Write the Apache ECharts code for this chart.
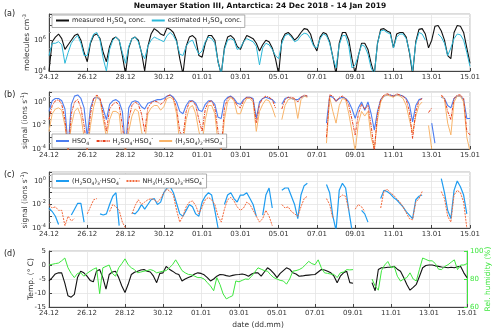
<!DOCTYPE html>
<html>
<head>
<meta charset="utf-8">
<script src="https://cdn.jsdelivr.net/npm/echarts@6/dist/echarts.min.js"></script>
<style>
html, body { margin: 0; padding: 0; background: #fff; }
#chart { width: 500px; height: 332px; }
</style>
</head>
<body>
<div id="chart"></div>
<script>
// samples every 4 h from 24.12 00:00, values in log10 for (a)-(c)
const STEP = 4 / 24;
const dateLabels = ['24.12', '26.12', '28.12', '30.12', '01.01', '03.01', '05.01', '07.01', '09.01', '11.01', '13.01', '15.01'];

const measuredConc = [
    4.0, 5.9, 6.2, 6.4, 6.1, 5.4,
    5.7, 6.0, 6.3, 6.4, 6.0, 5.2,
    4.6, 5.8, 6.3, 6.4, 6.1, 5.2,
    4.6, 5.6, 6.1, 6.2, 6.0, 5.0,
    3.8, 5.5, 6.1, 6.2, 6.0, 5.2,
    4.0, 5.6, 6.4, 6.75, 6.6, 6.4,
    6.3, 6.8, 6.7, 6.5, 6.0, 4.8,
    3.8, 5.6, 6.2, 6.3, 6.1, 5.0,
    4.9, 5.8, 6.3, 6.3, 6.0, 4.6,
    3.8, 5.5, 6.2, 6.3, 6.1, 5.6,
    5.4, 5.9, 6.3, 6.2, 6.1, 5.8,
    5.3, 5.7, 6.0, 5.9, 5.5, 4.8,
    3.8, 6.0, 6.4, 6.5, 6.3, 6.0,
    6.2, 6.5, 6.75, 6.7, 6.4, 5.7,
    5.3, 6.2, 6.5, 6.4, 5.9, 4.9,
    3.8, 5.8, 6.5, 6.5, 6.0, 4.8,
    3.8, 5.0, 5.8, 5.8, 5.4, 4.5,
    3.8, 5.8, 6.7, 6.75, 6.6, 6.5,
    5.5, 6.4, 6.5, 6.5, 6.2, 5.2,
    3.8, 5.9, 6.7, 6.75, 6.4, 5.5,
    6.0, 6.9, 6.95, 6.6, 6.0, 5.0,
    4.8, 6.5, 6.95, 6.9, 6.5, 5.5,
    4.5
];
const estimatedConc = [
    5.0, 5.8, 5.8, 5.9, 5.7, 4.5,
    5.2, 5.8, 6.1, 6.3, 5.8, 5.0,
    5.0, 5.9, 6.4, 6.5, 6.0, 4.8,
    4.0, 5.4, 6.0, 6.2, 6.0, 5.2,
    4.5, 5.6, 6.1, 6.2, 5.9, 5.2,
    4.8, 5.6, 6.0, 6.2, 6.1, 6.0,
    5.9, 6.3, 6.5, 6.3, 5.9, 5.1,
    5.0, 5.6, 5.9, 6.0, 5.5, 5.1,
    5.3, 5.9, 6.2, 6.1, 5.8, 4.6,
    3.8, 5.4, 6.0, 6.1, 6.0, 5.4,
    5.5, 5.9, 6.1, 6.0, 5.9, 5.6,
    4.4, 5.5, 5.8, 5.7, 5.4, 5.0,
    4.8, 5.8, 6.3, 6.4, 6.2, 5.9,
    6.0, 6.3, 6.45, 6.4, 6.1, 5.6,
    5.5, 6.1, 6.4, 6.3, 5.8, 4.9,
    4.2, 5.7, 6.3, 6.3, 5.6, 4.2,
    4.4, 5.0, 5.7, 5.6, 5.1, 4.2,
    3.8, 5.8, 6.6, 6.65, 6.5, 6.4,
    5.5, 6.2, 6.4, 6.4, 6.1, 5.3,
    4.0, 5.8, 6.5, 6.4, 6.0, null,
    null, null, 6.4, 6.2, 5.8, 5.0,
    5.5, 6.1, 6.4, 6.35, 6.0, 5.2,
    4.3
];

const hso4 = [
    -0.8, 0.1, 0.3, 0.3, 0.1, -0.6,
    -3.8, -0.2, 0.5, 0.6, 0.3, -0.5,
    -3.0, -0.5, 0.3, 0.4, 0.2, -0.6,
    -1.5, -0.2, 0.1, 0.2, 0.0, -0.8,
    -3.9, -0.5, 0.0, 0.1, 0.0, -0.4,
    -0.6, -0.1, 0.0, 0.1, 0.2, 0.2,
    0.3, 0.5, 0.6, 0.4, 0.0, -0.8,
    -1.0, -0.3, 0.1, 0.1, -0.1, -0.7,
    -0.8, -0.2, 0.1, 0.1, -0.2, -1.3,
    -1.4, 0.1, 0.4, 0.5, 0.3, -0.1,
    -0.2, 0.2, 0.4, 0.4, 0.3, -1.4,
    0.0, 0.3, 0.4, 0.3, 0.2, -0.1,
    null, -0.2, 0.3, 0.4, 0.3, 0.2,
    0.2, 0.4, 0.5, 0.5, null, null,
    null, null, null, -1.8, 0.5, 0.4,
    0.1, 0.3, 0.4, 0.3, 0.0, -0.6,
    -1.4, -0.5, 0.0, -0.7, 0.0, -1.0,
    -2.4, -0.8, 0.2, 0.5, 0.6, 0.6,
    0.5, 0.6, 0.6, 0.5, 0.3, -0.2,
    -1.7, -0.3, 0.2, 0.3, null, null,
    -1.8, -3.5, null, 0.4, 0.3, -0.3,
    -0.5, 0.3, 0.5, 0.5, 0.2, -1.4,
    -1.4
];
const h2so4Hso4 = [
    -1.5, -0.3, 0.1, 0.2, -0.2, -1.5,
    -4.2, -1.0, 0.0, 0.2, -0.5, -2.0,
    -4.2, -1.0, 0.3, 0.6, 0.3, -1.0,
    -2.5, -0.6, -0.2, 0.0, -0.3, -2.0,
    -4.2, -1.5, -0.3, 0.0, -0.2, -1.0,
    -2.5, -0.5, -0.1, 0.1, 0.0, -0.2,
    0.0, 0.5, 0.6, 0.3, -0.5, -2.5,
    -3.0, -0.8, 0.0, 0.1, -0.3, -1.5,
    -2.5, -0.6, 0.0, 0.1, -0.5, -2.5,
    -4.2, -0.5, 0.3, 0.5, 0.2, -0.3,
    -0.5, 0.1, 0.4, 0.4, 0.2, -1.8,
    -0.2, 0.3, 0.5, 0.4, 0.2, -0.5,
    null, -0.6, 0.2, 0.4, 0.4, 0.3,
    0.0, 0.4, 0.6, 0.5, null, null,
    null, null, null, -3.0, 0.6, 0.5,
    0.0, 0.4, 0.5, 0.3, -0.3, -1.5,
    -2.8, -1.0, -0.2, -0.6, -0.3, -2.0,
    -4.2, -1.0, 0.2, 0.6, 0.7, 0.6,
    0.5, 0.7, 0.6, 0.5, 0.2, -0.8,
    -3.1, -0.8, 0.1, 0.3, null, -0.9,
    -0.5, null, null, 0.6, 0.3, -0.8,
    -1.5, 0.3, 0.6, 0.6, 0.3, -2.5,
    -2.8
];
const h2so4x2Hso4 = [
    -2.5, -1.0, -0.6, -0.5, -0.7, -2.0,
    -4.2, -2.0, -0.8, -0.5, -1.2, -3.0,
    -4.2, -2.0, -0.4, 0.5, 0.2, -1.5,
    -3.0, -1.5, -0.8, -0.8, -1.0, -3.5,
    -4.2, -2.5, -1.2, -0.6, -0.8, -2.5,
    -3.5, -1.0, -0.5, -0.3, -0.3, -0.7,
    -0.4, 0.3, 0.4, 0.2, -1.0, -3.5,
    -3.5, -1.5, -0.5, -0.3, -1.0, -2.5,
    -3.5, -1.5, -0.3, -0.3, -1.0, -3.5,
    -4.2, -1.5, 0.0, 0.4, 0.1, -1.0,
    -1.0, -0.2, 0.3, 0.3, 0.0, -2.5,
    -0.8, -0.2, 0.2, 0.1, -0.5, -1.3,
    null, -1.5, -0.3, 0.2, 0.3, 0.2,
    -1.4, 0.2, 0.5, 0.4, null, null,
    null, null, null, -3.5, 0.4, -0.8,
    -1.8, -0.3, 0.3, 0.2, -1.0, -2.5,
    -4.2, -1.8, -0.8, -1.2, -0.8, -3.0,
    -4.0, -1.5, 0.0, 0.5, 0.6, 0.5,
    0.4, 0.6, 0.5, 0.3, -0.3, -1.5,
    -2.6, -1.2, -0.3, 0.0, null, -2.0,
    -4.0, null, null, 0.5, 0.2, -1.8,
    -2.8, 0.0, 0.5, 0.5, 0.0, -3.0,
    -4.2
];

const h2so4x3Hso4 = [
    -2.3, -2.6, -3.0, -3.7, null, null,
    null, -2.9, -2.4, -1.9, -1.9, -3.5,
    null, null, null, null, -2.8, -2.9,
    -2.8, -2.0, -1.3, -1.0, -3.8, null,
    null, null, -2.7, -2.8, -2.5, -2.0,
    -2.4, -2.0, -1.6, -1.5, -2.0, -1.8,
    -1.0, -0.6, -0.5, -1.0, -1.9, -2.8,
    -3.0, -2.5, -2.0, -2.2, -2.8, -3.0,
    -1.8, -1.3, -1.0, -1.2, -2.5, -4.0,
    null, -2.0, -1.2, -1.0, -1.5, -1.8,
    -1.2, -1.2, -1.0, -1.5, -2.0, -3.0,
    null, -2.9, -1.2, -0.6, -2.3, null,
    null, -0.8, -0.6, -0.6, -1.3, -2.0,
    -3.2, -1.2, -0.4, -0.2, null, null,
    null, null, null, -0.3, -1.0, -3.0,
    -4.2, -0.8, -0.2, -0.6, -2.5, -4.2,
    null, null, -2.5, -2.8, -3.5, null,
    null, null, -1.5, -0.8, -0.9, -1.1,
    -1.4, -1.6, -1.9, -2.2, -2.6, -2.9,
    -3.2, -1.6, -1.3, -1.2, null, null,
    null, null, null, 0.2, -1.0, -2.5,
    -3.2, -0.8, 0.0, -0.5, -1.2, -2.8,
    null
];
const nh3H2so4x3Hso4 = [
    -2.0, -2.3, -2.2, -2.5, -2.5, -3.8,
    -3.0, -3.4, -3.2, null, null, null,
    -2.8, -2.2, -1.6, -1.5, null, null,
    null, -2.6, -2.0, -2.2, -2.5, -3.5,
    -4.0, null, -2.8, -2.1, -1.6, -2.0,
    -1.8, -1.6, -1.5, -1.6, -1.8, -1.5,
    -1.0, -0.7, -0.9, -1.2, -2.5, -3.5,
    -3.0, -2.2, -1.8, -1.7, -2.1, -2.8,
    -2.2, -1.6, -1.4, -1.6, -2.0, -3.0,
    -3.5, -2.4, -1.6, -1.4, -1.7, -2.2,
    -2.5, -2.3, -1.8, -2.0, -2.5, -3.0,
    -3.5, -3.2, -2.5, -3.0, -3.8, null,
    null, -2.0, -2.3, -2.2, -2.6, -2.8,
    -3.0, -2.2, -1.5, -1.3, null, null,
    null, null, null, -1.5, -2.0, -3.2,
    null, -1.4, -1.2, -1.3, -2.5, null,
    -2.4, -2.0, -2.2, -2.6, null, null,
    null, null, -2.3, -0.9, -0.7, -1.0,
    -1.2, -1.5, -1.8, -2.2, -2.7, -3.2,
    -3.3, -1.8, -1.5, -0.9, null, null,
    null, null, null, -0.9, -1.5, -3.0,
    -3.5, -1.2, -0.8, -1.0, -1.8, -4.0,
    null
];

const temperature = [
    -5.7, -4.5, -3.2, -2.8, -2.8, -6.5,
    -11.0, -11.5, -10.5, -4.5, -2.2, -2.8,
    -4.0, -5.5, -6.0, -2.2, -1.6, -4.5,
    -8.6, -3.4, -2.5, -2.2, -4.5, -7.5,
    -9.8, -6.9, -3.4, -2.6, -2.2, -1.8,
    -1.6, -2.2, -2.5, -4.0, -6.3, -3.0,
    -2.8, -0.5, -1.5, -2.2, -3.0, -3.4,
    -5.7, -5.0, -4.5, -4.0, -3.2, -2.8,
    -3.0, -3.5, -4.5, -5.7, -5.0, -4.0,
    -3.4, -3.5, -3.8, -4.0, -3.7, -3.5,
    -3.4, -3.2, -3.5, -4.0, -3.2, -2.8,
    -2.8, -4.0, -2.5, -1.0, -1.8, -3.0,
    -4.5, -3.0, -2.0, -1.0, -1.5, -2.8,
    -3.2, -4.0, -3.9, -3.7, -3.6, -3.5,
    -3.4, -2.5, -1.6, -1.8, -2.2, -2.8,
    -4.0, -6.3, -4.0, -2.8, -2.2, -6.3,
    -6.5, null, null, null, null, null,
    -6.3, -9.2, -1.6, -1.0, -1.0, -0.8,
    -0.8, -0.5, -1.5, -2.2, -4.5, -7.0,
    -9.0, -8.0, -6.9, -4.0, -1.0, -0.2,
    0.0, 0.0, -0.3, -0.5, -0.7, -0.8,
    -1.0, -0.8, -1.0, -0.6, -0.5, -2.8,
    -4.5
];
const relHumidity = [
    90, 90.5, 91, 91.4, 93, 95,
    88, 84, 81, 84, 84.4, 82,
    84, 85.6, 87, 88, 69.5, 88,
    89, 90, 84, 82, 88, 91,
    94.4, 90.2, 88, 86.7, 84.4, 85,
    85.6, 86, 86.7, 86, 84.4, 85,
    85.6, 86, 88, 90.2, 93.7, 90,
    86, 84.4, 83.3, 83, 82, 81,
    81, 80, 77.4, 75, 71.6, 81,
    76, 69.3, 65.8, 67, 68.1, 78.6,
    78, 79, 80, 79.8, 82, 85,
    88, 87, 86, 85.6, 83, 81,
    80, 79, 78.6, 76.3, 80, 85.6,
    86, 86.7, 88, 90.2, 92.6, 91,
    90.2, 93.7, 88, 84.4, 84, 83.5,
    83.3, 81, 84.4, 85, 86.7, 86.5,
    86.7, null, null, null, null, null,
    80, 75, 72, 86, 90, 92.5,
    88, 89, 82, 78.5, 80, 81,
    84.4, 80, 78.6, 87, 95, 94,
    93, 93, 91, 87, 86.7, 89,
    90.2, 92, 93.7, 86.7, 90, 90,
    91
];

const FONT = 'DejaVu Sans';
const GREEN = '#3ee63e';
const rich = {
    n: { fontSize: 6.5, lineHeight: 10, fontFamily: FONT, color: '#222' },
    sub: { fontSize: 4.5, lineHeight: 4, verticalAlign: 'bottom', fontFamily: FONT, color: '#222' },
    sup: { fontSize: 4.5, lineHeight: 4, verticalAlign: 'top', fontFamily: FONT, color: '#222' }
};
const legendText = {
    measured: '{n|measured H}{sub|2}{n|SO}{sub|4}{n| conc.}',
    estimated: '{n|estimated H}{sub|2}{n|SO}{sub|4}{n| conc.}',
    hso4: '{n|HSO}{sub|4}{sup|-}',
    dimer: '{n|H}{sub|2}{n|SO}{sub|4}{n|·HSO}{sub|4}{sup|-}',
    trimer: '{n|(H}{sub|2}{n|SO}{sub|4}{n|)}{sub|2}{n|·HSO}{sub|4}{sup|-}',
    tetramer: '{n|(H}{sub|2}{n|SO}{sub|4}{n|)}{sub|3}{n|·HSO}{sub|4}{sup|-}',
    nh3: '{n|NH}{sub|3}{n|(H}{sub|2}{n|SO}{sub|4}{n|)}{sub|3}{n|·HSO}{sub|4}{sup|-}'
};

function pts(arr) {
    return arr.map((v, i) => [i * STEP, v]);
}

const gridTops = [14, 92, 172, 251];
const gridHeights = [57, 57, 56, 56];

const chart = echarts.init(document.getElementById('chart'));

const xAxes = gridTops.map((t, i) => ({
    type: 'value',
    gridIndex: i,
    min: 0,
    max: 22,
    interval: 2,
    axisLine: { onZero: false, lineStyle: { color: '#444' } },
    axisTick: { inside: true, length: 3, lineStyle: { color: '#444' } },
    axisLabel: {
        fontFamily: FONT, fontSize: 7, color: '#333', margin: 3,
        formatter: v => dateLabels[Math.round(v / 2)] || ''
    },
    splitLine: { show: true, lineStyle: { color: '#e4e4e4', width: 0.8 } },
    name: i === 3 ? 'date (dd.mm)' : '',
    nameLocation: 'middle',
    nameGap: 14,
    nameMoveOverlap: false,
    nameTextStyle: { fontFamily: FONT, fontSize: 7.5, color: '#333' }
}));

function logAxis(gi, min, max, name, gap) {
    return {
        type: 'value',
        gridIndex: gi,
        min: min,
        max: max,
        interval: 1,
        axisLine: { show: true, onZero: false, lineStyle: { color: '#444' } },
        axisTick: { inside: true, length: 3, lineStyle: { color: '#444' } },
        axisLabel: {
            margin: 3,
            rich: {
                b: { fontSize: 7, fontFamily: FONT, color: '#333', lineHeight: 10 },
                s: { fontSize: 5, fontFamily: FONT, color: '#333', lineHeight: 5, verticalAlign: 'top' }
            },
            formatter: v => (Number.isInteger(v) && v % 2 === 0) ? '{b|10}{s|' + v + '}' : ''
        },
        splitLine: { show: true, lineStyle: { color: '#e4e4e4', width: 0.8 } },
        minorTick: { show: true, splitNumber: 2, length: 2, lineStyle: { color: '#888' } },
        minorSplitLine: { show: true, lineStyle: { color: '#f0f0f0', width: 0.8 } },
        name: name,
        nameLocation: 'middle',
        nameRotate: 90,
        nameGap: gap,
        nameMoveOverlap: false,
        nameTextStyle: {
            rich: {
                n: { fontSize: 7.5, fontFamily: FONT, color: '#333', lineHeight: 11 },
                sup: { fontSize: 5, fontFamily: FONT, color: '#333', lineHeight: 5, verticalAlign: 'top' }
            }
        }
    };
}

const yAxes = [
    logAxis(0, 4, 7.7, '{n|molecules cm}{sup|-3}', 16),
    logAxis(1, -4, 0.85, '{n|signal (ions s}{sup|-1}{n|)}', 18),
    logAxis(2, -4, 0.76, '{n|signal (ions s}{sup|-1}{n|)}', 18),
    {
        type: 'value', gridIndex: 3, min: -15, max: 5, interval: 5,
        axisLine: { show: true, onZero: false, lineStyle: { color: '#444' } },
        axisTick: { inside: true, length: 3, lineStyle: { color: '#444' } },
        axisLabel: { fontFamily: FONT, fontSize: 7, color: '#333', margin: 3 },
        splitLine: { show: true, lineStyle: { color: '#e4e4e4', width: 0.8 } },
        name: 'Temp. (° C)', nameLocation: 'middle', nameRotate: 90, nameGap: 14,
        nameMoveOverlap: false,
        nameTextStyle: { fontFamily: FONT, fontSize: 7.5, color: '#333' }
    },
    {
        type: 'value', gridIndex: 3, position: 'right', min: 60, max: 100, interval: 20,
        axisLine: { show: true, onZero: false, lineStyle: { color: GREEN } },
        axisTick: { inside: true, length: 3, lineStyle: { color: GREEN } },
        axisLabel: { fontFamily: FONT, fontSize: 7, color: GREEN, margin: 3 },
        splitLine: { show: false },
        name: 'Rel. humidity (%)', nameLocation: 'middle', nameRotate: 90, nameGap: 17,
        nameMoveOverlap: false,
        nameTextStyle: { fontFamily: FONT, fontSize: 7.5, color: GREEN }
    }
];

function line(name, data, xi, yi, color, width, type) {
    return {
        name: name, type: 'line', data: pts(data),
        xAxisIndex: xi, yAxisIndex: yi,
        showSymbol: false, symbol: 'none', connectNulls: false,
        clip: true, animation: false,
        lineStyle: { color: color, width: width, type: type || 'solid' },
        itemStyle: { color: color }
    };
}

const legendBase = {
    orient: 'horizontal',
    itemWidth: 13, itemHeight: 8, itemGap: 5,
    backgroundColor: '#fff', borderColor: '#999', borderWidth: 0.8,
    padding: [2, 3, 2, 3],
    itemStyle: { opacity: 0 },
    formatter: n => legendText[n],
    textStyle: { rich: rich, padding: [0, 0, 0, -2] }
};

chart.setOption({
    animation: false,
    textStyle: { fontFamily: FONT },
    grid: gridTops.map((t, i) => ({
        left: 49, right: 30, top: t, height: gridHeights[i],
        show: true, borderColor: '#aaa', borderWidth: 0.8, backgroundColor: 'transparent'
    })),
    xAxis: xAxes,
    yAxis: yAxes,
    legend: [
        Object.assign({}, legendBase, { left: 52, top: 15, data: ['measured', 'estimated'] }),
        Object.assign({}, legendBase, { left: 52, top: 134, data: ['hso4', 'dimer', 'trimer'] }),
        Object.assign({}, legendBase, { left: 52, top: 174, data: ['tetramer', 'nh3'] })
    ],
    graphic: [
        { type: 'text', x: 260, y: 2, style: { text: 'Neumayer Station III, Antarctica: 24 Dec 2018 - 14 Jan 2019', font: 'bold 7.5px "DejaVu Sans"', fill: '#111', align: 'center' } },
        { type: 'text', x: 4, y: 10, style: { text: '(a)', font: '8px "DejaVu Sans"', fill: '#222' } },
        { type: 'text', x: 4, y: 91, style: { text: '(b)', font: '8px "DejaVu Sans"', fill: '#222' } },
        { type: 'text', x: 4, y: 171, style: { text: '(c)', font: '8px "DejaVu Sans"', fill: '#222' } },
        { type: 'text', x: 4, y: 250, style: { text: '(d)', font: '8px "DejaVu Sans"', fill: '#222' } }
    ],
    series: [
        line('measured', measuredConc, 0, 0, '#111111', 1.1),
        line('estimated', estimatedConc, 0, 0, '#2bb8d8', 1),
        line('hso4', hso4, 1, 1, '#4d7ef0', 1.1),
        line('trimer', h2so4x2Hso4, 1, 1, '#f8b46a', 1),
        line('dimer', h2so4Hso4, 1, 1, '#e8431f', 1, [3, 1, 1, 1]),
        line('tetramer', h2so4x3Hso4, 2, 2, '#1e9cf0', 1.2),
        line('nh3', nh3H2so4x3Hso4, 2, 2, '#f26a3d', 1, [2, 1]),
        line('temp', temperature, 3, 3, '#111111', 1.1),
        line('rh', relHumidity, 3, 4, GREEN, 1)
    ]
});
</script>
</body>
</html>
